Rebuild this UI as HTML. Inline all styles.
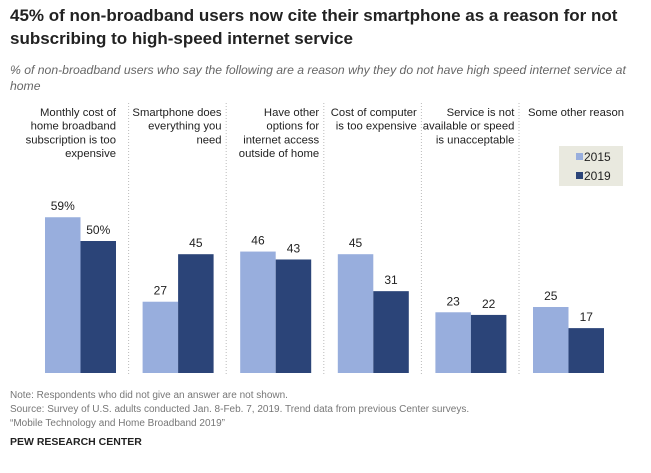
<!DOCTYPE html>
<html><head><meta charset="utf-8"><style>
body{margin:0;background:#fff;font-family:"Liberation Sans",sans-serif;}
#wrap{position:relative;width:651px;height:473px;overflow:hidden;}
.t{position:absolute;left:10px;top:4px;width:630px;font-weight:bold;font-size:17px;line-height:23px;color:#222;}
.s{position:absolute;left:10px;top:62px;width:635px;font-style:italic;font-size:12.2px;line-height:16px;color:#666;}
.n{position:absolute;left:10px;font-size:10px;color:#777;}
</style></head><body>
<div id="wrap">
<div class="t">45% of non-broadband users now cite their smartphone as a reason for not subscribing to high-speed internet service</div>
<div class="s">% of non-broadband users who say the following are a reason why they do not have high speed internet service at home</div>
<svg id="chart" width="651" height="473" style="position:absolute;left:0;top:0"></svg>
<div class="n" style="top:390px">Note: Respondents who did not give an answer are not shown.</div>
<div class="n" style="top:404px">Source: Survey of U.S. adults conducted Jan. 8-Feb. 7, 2019. Trend data from previous Center surveys.</div>
<div class="n" style="top:418px">“Mobile Technology and Home Broadband 2019”</div>
<div class="n" style="top:436px;font-weight:bold;color:#222;font-size:10.5px">PEW RESEARCH CENTER</div>
</div>
<script>
const categories=[["Monthly cost of","home broadband","subscription is too","expensive"],["Smartphone does","everything you","need"],["Have other","options for","internet access","outside of home"],["Cost of computer","is too expensive"],["Service is not","available or speed","is unacceptable"],["Some other reason"]];
const series2015=[59,27,46,45,23,25];
const series2019=[50,45,43,31,22,17];
const valueLabels2015=["59%","27","46","45","23","25"];
const valueLabels2019=["50%","45","43","31","22","17"];
const NS="http://www.w3.org/2000/svg";
const svg=document.getElementById('chart');
const base=373,scale=2.64,g0=45,step=97.6,bw=35.5;
const y=v=>base-v*scale;
const x=i=>g0+i*step;
function mk(t,a){const e=document.createElementNS(NS,t);for(const k in a)e.setAttribute(k,a[k]);svg.appendChild(e);return e;}
categories.forEach((c,i)=>{
  if(i>0){const sx=x(i)-14;const l=mk('line',{x1:sx,x2:sx,y1:103,y2:375,stroke:'#bbb','stroke-dasharray':'1,2'});
  
  }
  const last=i===categories.length-1;
  const rx=x(i)+2*bw+(i===0?0:8);
  c.forEach((line,j)=>{const t=mk('text',{x:last?x(i)-5:rx,y:116+j*13.7,'text-anchor':last?'start':'end','font-size':'11.3',fill:'#222'});t.textContent=line;
  
  });
  [[series2015,valueLabels2015,'#98aedd','2015'],[series2019,valueLabels2019,'#2b4478','2019']].forEach((s,k)=>{
    const v=s[0][i];const bx=x(i)+k*bw;
    const r=mk('rect',{x:bx,y:y(v),width:bw,height:v*scale,fill:s[2]});
    
    
    const t=mk('text',{x:bx+bw/2,y:y(v)-7,'text-anchor':'middle','font-size':'12',fill:'#222'});t.textContent=s[1][i];
    
    
  });
});
const lg=mk('rect',{x:559,y:146,width:64,height:40,fill:'#e9e9df'});


[['#98aedd','2015',161],['#2b4478','2019',180]].forEach(d=>{
  const r=mk('rect',{x:576,y:d[2]-8,width:7,height:7,fill:d[0]});
  
  
  const t=mk('text',{x:584,y:d[2],'font-size':'12',fill:'#222'});t.textContent=d[1];
  
  
});
</script>
</body></html>
